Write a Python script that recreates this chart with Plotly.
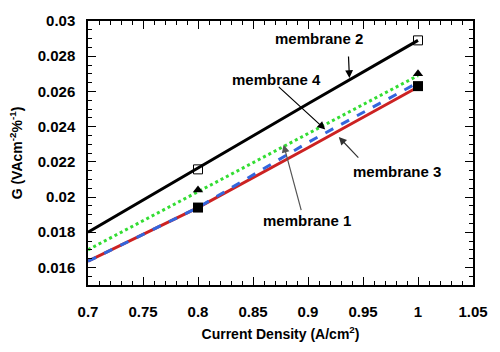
import plotly.graph_objects as go

# Data
x_fit = [0.7, 0.8, 0.9, 1.0]
m2_fit = [0.0180, 0.02165, 0.0253, 0.0289]
m4_fit = [0.0170, 0.0203, 0.0236, 0.0269]
m3_fit = [0.01635, 0.0194, 0.0228, 0.02625]
m1_fit = [0.01635, 0.0194, 0.0231, 0.0265]

x_pts = [0.8, 1.0]
m2_pts = [0.02157, 0.0289]
m4_pts = [0.0204, 0.0270]
m13_pts = [0.0194, 0.0263]

x_tickvals = [0.7, 0.75, 0.8, 0.85, 0.9, 0.95, 1.0, 1.05]
x_ticktext = ["0.7", "0.75", "0.8", "0.85", "0.9", "0.95", "1", "1.05"]
y_tickvals = [0.016, 0.018, 0.02, 0.022, 0.024, 0.026, 0.028, 0.03]
y_ticktext = ["0.016", "0.018", "0.02", "0.022", "0.024", "0.026", "0.028", "0.03"]

font_fam = "Liberation Sans, Arial, sans-serif"

fig = go.Figure()
fig.add_trace(go.Scatter(x=x_fit, y=m2_fit, mode="lines", line=dict(color="black", width=3), showlegend=False))
fig.add_trace(go.Scatter(x=x_fit, y=m4_fit, mode="lines", line=dict(color="#33dd33", width=3, dash="dot"), showlegend=False))
fig.add_trace(go.Scatter(x=x_fit, y=m3_fit, mode="lines", line=dict(color="#cc2222", width=3), showlegend=False))
fig.add_trace(go.Scatter(x=x_fit, y=m1_fit, mode="lines", line=dict(color="#3366dd", width=3, dash="dash"), showlegend=False))
fig.add_trace(go.Scatter(x=x_pts, y=m2_pts, mode="markers",
                         marker=dict(symbol="square-open", size=9, color="black", line=dict(width=1)), showlegend=False))
fig.add_trace(go.Scatter(x=x_pts, y=m4_pts, mode="markers",
                         marker=dict(symbol="triangle-up", size=9, color="black"), showlegend=False))
fig.add_trace(go.Scatter(x=x_pts, y=m13_pts, mode="markers",
                         marker=dict(symbol="square", size=10, color="black"), showlegend=False))

k = 0.05 / 56.8
def dx(px):
    return 0.7 + (px - 88) * k
def dy(py):
    return 0.03 - (py - 13) * 0.001 / 18.5

labels = [
    ("membrane 2", 327, 31),
    ("membrane 4", 283, 75),
    ("membrane 3", 407, 171),
    ("membrane 1", 314, 223),
]
for t, px, py in labels:
    fig.add_annotation(x=dx(px), y=dy(py), text=t, showarrow=False,
                       font=dict(family=font_fam, size=15, color="black", weight="bold"))

arrows = [
    (358, 73, 357, 50, "black"),
    (333, 127, 285, 83, "black"),
    (347, 135, 368, 157, "#333333"),
    (290, 143, 308, 210, "#555555"),
]
for hx, hy, tx, ty, c in arrows:
    fig.add_annotation(x=dx(hx), y=dy(hy), ax=tx - hx, ay=ty - hy, text="",
                       showarrow=True, arrowhead=2, arrowsize=1.3, arrowwidth=1.2, arrowcolor=c)

axis_common = dict(
    showline=True, linecolor="black", linewidth=1.5, mirror="allticks",
    ticks="inside", ticklen=8, tickcolor="black", tickwidth=1.2,
    showgrid=False, zeroline=False, tickmode="array",
    tickfont=dict(family=font_fam, size=15, color="black", weight="bold"),
)

fig.update_xaxes(range=[0.7, 1.05], tickvals=x_tickvals, ticktext=x_ticktext,
                 minor=dict(ticks="inside", ticklen=4, dtick=0.01, tick0=0.7, tickcolor="black", showgrid=False),
                 ticklabelstandoff=12,
                 title=dict(text="Current Density (A/cm<sup>2</sup>)", standoff=10,
                            font=dict(family=font_fam, size=14, color="black", weight="bold")),
                 **axis_common)
fig.update_yaxes(range=[0.015, 0.03], tickvals=y_tickvals, ticktext=y_ticktext,
                 minor=dict(ticks="inside", ticklen=4, dtick=0.0005, tick0=0.015, tickcolor="black", showgrid=False),
                 ticklabelstandoff=8,
                 title=dict(text="G (VAcm<sup>-2</sup>%<sup>-1</sup>)", standoff=12,
                            font=dict(family=font_fam, size=14, color="black", weight="bold")),
                 **axis_common)

fig.update_layout(width=500, height=352, margin=dict(l=88, r=15, t=13, b=62),
                  plot_bgcolor="white", paper_bgcolor="white")

fig.write_html("out.html")
